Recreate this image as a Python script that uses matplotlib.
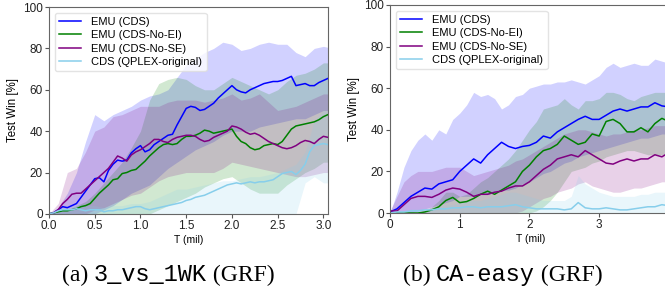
import numpy as np
import matplotlib
matplotlib.use('Agg')
import matplotlib.pyplot as plt
from matplotlib.offsetbox import TextArea, HPacker, AnchoredOffsetbox

# ---- datos (a) 3_vs_1WK ----
t_a = np.linspace(0, 3.05, 62)
emu_cds_a = [0, 0.5, 2, 3.5, 3, 4, 5, 8, 11, 14, 17, 17.5, 15.5, 21, 24, 26, 25.5, 26, 29.5, 31.5,
             33, 30, 31, 33.5, 35, 36.5, 38, 38.5, 43, 47, 51, 52, 51.5, 50, 50.5, 52, 53.5, 56, 58, 60,
             62, 60, 59, 58.5, 60, 61, 62, 63, 63.5, 64, 64, 64.5, 65.5, 66.5, 62, 62.5, 63, 62, 62, 63.5,
             64.5, 65.5]
emu_noei_a = [0, 0.5, 1, 1.5, 1.5, 2, 2.5, 3.5, 4, 5, 7.5, 10, 12, 14, 16.5, 17, 19.5, 20, 21, 21.5,
              23.5, 25.5, 28, 30, 32, 33.5, 34, 33.5, 34, 36, 37.5, 37.5, 38, 39, 40.5, 40, 39, 39.5, 40, 40.5,
              41, 37.5, 35, 34, 32, 31, 31.5, 33, 33.5, 34, 33.5, 35, 38, 41, 42.5, 43, 43.5, 44, 44.5, 45.5,
              47, 48]
emu_nose_a = [0, 0.5, 2, 5, 7, 9.5, 10, 10, 12, 14, 16, 18, 20, 22, 25, 28, 27, 25.5, 28.5, 30,
              31, 32.5, 34, 36, 36, 35, 34.5, 36, 37, 37.5, 38, 38, 37.5, 36, 35, 35.5, 37, 38, 39, 40,
              42.5, 42, 41, 39.5, 38.5, 39, 38, 36.5, 35, 34, 33, 32, 31.5, 32, 33, 34.5, 35.5, 35, 34, 36,
              37.5, 37]
cds_a = [0, 0.5, 1.5, 2, 2, 2, 2.5, 2, 1.5, 2, 2, 2, 1, 1.5, 1.5, 2, 2, 2.5, 3, 3.5,
         3.5, 2.5, 2, 2.5, 3, 3.5, 4, 4.5, 5, 5.5, 6.5, 7, 8, 8.5, 9, 10, 11, 12, 13, 14,
         14.5, 15, 14.5, 15, 15.5, 15, 15.5, 15.5, 16, 16.5, 18, 19.5, 20, 20.5, 19, 21, 24, 30, 33, 33.5,
         34, 33.5]

tb_a = np.linspace(0, 3.1, 32)
emu_cds_a_hi = [0, 3, 10, 20, 35, 48, 45, 48, 50, 52, 55, 57, 58, 60, 66, 72, 75, 78, 80, 83,
                82, 79, 80, 82, 83, 82, 82, 78, 76, 80, 81, 80]
emu_cds_a_lo = [0, 0, 0, 0, 0, 0, 2, 4, 7, 10, 12, 14, 18, 22, 25, 28, 31, 33, 35, 38,
                40, 40, 40, 42, 43, 44, 45, 46, 46, 48, 50, 50]
emu_noei_a_hi = [0, 1, 2, 4, 6, 10, 15, 20, 25, 32, 40, 55, 63, 65, 66, 65, 62, 60, 60, 63,
                 66, 64, 62, 60, 58, 60, 64, 67, 68, 70, 73, 73]
emu_noei_a_lo = [0, 0, 0, 0, 0, 0, 0, 0, 0, 0, 0, 0, 2, 4, 6, 8, 10, 13, 15, 17,
                 18, 15, 12, 10, 10, 10, 14, 17, 20, 22, 25, 25]
emu_nose_a_hi = [0, 5, 20, 22, 30, 40, 42, 47, 48, 50, 52, 52, 52, 54, 55, 55, 55, 54, 55, 56,
                 58, 55, 56, 58, 54, 50, 51, 52, 54, 56, 58, 58]
emu_nose_a_lo = [0, 0, 0, 0, 0, 2, 3, 5, 7, 9, 10, 13, 16, 18, 19, 20, 20, 20, 20, 22,
                 25, 24, 23, 22, 21, 20, 19, 18, 18, 19, 20, 20]
cds_a_hi = [0, 3, 4, 5, 4, 4, 3, 4, 4, 5, 5, 6, 8, 10, 12, 12, 13, 14, 15, 16,
            16, 17, 18, 18, 19, 20, 22, 24, 30, 45, 50, 50]
cds_a_lo = [0, 0, 0, 0, 0, 0, 0, 0, 0, 0, 0, 0, 0, 0, 0, 0, 0, 0, 0, 0,
            0, 0, 0, 0, 0, 0, 0, 0, 15, 18, 15, 15]

# ---- datos (b) CA-easy ----
t_b = np.linspace(0, 4.0, 41)
emu_cds_b = [0.5, 2, 5, 8, 10, 12, 11.5, 14, 15, 16, 20, 23, 26, 24, 28, 31, 34, 32, 31, 32,
             32.5, 34, 37, 36, 39, 41, 43, 45, 46.5, 45, 45, 47, 49, 50, 49, 50, 51, 51, 53, 51.5, 51]
emu_noei_b = [0, 0, 0, 0, 0, 0.5, 1.5, 3, 6, 7.5, 5, 5.5, 7, 9, 10.5, 9, 11, 13, 15, 20,
              23, 27, 30, 31, 33, 37, 35, 33, 34, 38, 37, 44, 45, 43, 39, 39, 41, 39, 43, 45.5, 44]
emu_nose_b = [1, 1, 4, 7, 8, 8, 7.5, 9, 11, 12, 11.5, 10, 8, 9, 9, 10, 10.5, 12, 13, 13,
              15, 18, 21, 23, 26, 27, 28, 27, 30, 28, 26, 24, 23.5, 25, 26, 25, 26, 26, 28, 27, 29]
cds_b = [0, 0.5, 0.5, 1, 1, 1.5, 1.5, 2, 2, 2.5, 2.5, 3, 3, 2.5, 3, 3, 3, 3.5, 4, 3,
         2.5, 2, 2, 2, 2, 1.5, 2, 5, 2.5, 2, 2, 2.5, 2, 1.5, 1.5, 2, 2.5, 3, 3, 4, 3.5]

emu_cds_b_hi = [0, 10, 22, 30, 35, 38, 35, 40, 38, 45, 48, 52, 58, 56, 57, 55, 50, 52, 56, 57,
                60, 61, 62, 62, 63, 63, 64, 63, 62, 64, 66, 70, 72, 70, 71, 72, 71, 71, 74, 73, 72]
emu_cds_b_lo = [0, 0, 0, 0, 1, 2, 3, 4, 5, 6, 8, 8, 8, 9, 9, 10, 11, 11, 12, 14,
                15, 17, 19, 20, 22, 24, 25, 27, 28, 29, 30, 31, 32, 33, 34, 35, 36, 36, 37, 38, 38]
emu_noei_b_hi = [0, 0, 0, 0, 0, 1, 3, 6, 10, 10, 8, 9, 12, 15, 17, 20, 23, 26, 30, 35,
                 40, 44, 50, 51, 52, 55, 52, 50, 54, 54, 55, 58, 58, 57, 55, 54, 56, 57, 58, 58, 58]
emu_noei_b_lo = [0, 0, 0, 0, 0, 0, 0, 0, 0, 0, 0, 0, 0, 0, 0, 0, 0, 0, 0, 0,
                 0, 1, 3, 6, 10, 15, 20, 21, 22, 24, 25, 27, 28, 29, 30, 30, 29, 28, 28, 28, 28]
emu_nose_b_hi = [1, 8, 15, 18, 20, 20, 20, 21, 22, 22, 22, 20, 18, 19, 20, 21, 22, 23, 25, 26,
                 28, 30, 32, 34, 36, 38, 39, 40, 40, 39, 38, 37, 38, 38, 39, 40, 40, 41, 42, 42, 42]
emu_nose_b_lo = [0, 0, 0, 0, 0, 0, 0, 0, 0, 0, 0, 0, 0, 0, 0, 0, 0, 0, 0, 1,
                 3, 5, 7, 8, 10, 11, 12, 14, 15, 13, 12, 11, 10, 10, 11, 12, 12, 13, 14, 15, 15]
cds_b_hi = [0, 1, 1, 2, 2, 2, 3, 3, 4, 4, 5, 6, 6, 6, 7, 8, 9, 10, 10, 9,
            8, 7, 6, 6, 6, 6, 8, 18, 14, 12, 10, 9, 8, 8, 8, 8, 9, 9, 10, 10, 10]
cds_b_lo = [0] * 41

labels = ['EMU (CDS)', 'EMU (CDS-No-EI)', 'EMU (CDS-No-SE)', 'CDS (QPLEX-original)']
colors = ['#0000ff', 'green', 'purple', '#87ceeb']

plt.rcParams['font.family'] = ['Liberation Sans', 'DejaVu Sans']

fig = plt.figure(figsize=(6.65, 2.93), dpi=100)
ax1 = fig.add_axes([0.0737, 0.270, 0.4195, 0.706])
ax2 = fig.add_axes([0.5865, 0.273, 0.4245, 0.710])

paneles = [
    (ax1, t_a, tb_a, [emu_cds_a, emu_noei_a, emu_nose_a, cds_a],
     [(emu_cds_a_lo, emu_cds_a_hi), (emu_noei_a_lo, emu_noei_a_hi),
      (emu_nose_a_lo, emu_nose_a_hi), (cds_a_lo, cds_a_hi)],
     (0, 3.05), [0.0, 0.5, 1.0, 1.5, 2.0, 2.5, 3.0], ['0.0', '0.5', '1.0', '1.5', '2.0', '2.5', '3.0']),
    (ax2, t_b, t_b, [emu_cds_b, emu_noei_b, emu_nose_b, cds_b],
     [(emu_cds_b_lo, emu_cds_b_hi), (emu_noei_b_lo, emu_noei_b_hi),
      (emu_nose_b_lo, emu_nose_b_hi), (cds_b_lo, cds_b_hi)],
     (0, 4.05), [0, 1, 2, 3], ['0', '1', '2', '3']),
]

for ax, t, tb, series, bands, xlim, xt, xtl in paneles:
    for y, (lo, hi), c, lab in zip(series, bands, colors, labels):
        ax.fill_between(tb, lo, hi, color=c, alpha=0.18, linewidth=0)
        ax.plot(t, y, color=c, lw=1.1, label=lab)
    ax.set_xlim(*xlim)
    ax.set_ylim(0, 100)
    ax.set_xticks(xt)
    ax.set_xticklabels(xtl)
    ax.set_yticks([0, 20, 40, 60, 80, 100])
    ax.tick_params(labelsize=8.5, length=3, width=0.8, color='#555555', labelcolor='#222222', pad=1.5)
    for s in ax.spines.values():
        s.set_color('#666666')
        s.set_linewidth(0.8)
    ax.set_ylabel('Test Win [%]', fontsize=8.3, labelpad=3)
    ax.set_xlabel('T (mil)', fontsize=7.5, labelpad=2)
    ax.legend(loc='upper left', fontsize=8, frameon=True, framealpha=0.8, edgecolor='#dddddd',
              handlelength=2.0, handletextpad=0.9, borderpad=0.4, labelspacing=0.3, fancybox=True)

# pies de figura (texto serif + mono)
def caption(parts, x, y):
    boxes = []
    for txt, fam in parts:
        boxes.append(TextArea(txt, textprops=dict(family=fam, fontsize=17, color='black')))
    pack = HPacker(children=boxes, align='baseline', pad=0, sep=0)
    ab = AnchoredOffsetbox(loc='center', child=pack, frameon=False,
                           bbox_to_anchor=(x, y), bbox_transform=fig.transFigure, borderpad=0)
    fig.add_artist(ab)

caption([('(a) ', 'Liberation Serif'), ('3_vs_1WK', 'Liberation Mono'), (' (GRF)', 'Liberation Serif')],
        0.253, 0.062)
caption([('(b) ', 'Liberation Serif'), ('CA-easy', 'Liberation Mono'), (' (GRF)', 'Liberation Serif')],
        0.756, 0.062)

fig.savefig('out.png', dpi=100)
